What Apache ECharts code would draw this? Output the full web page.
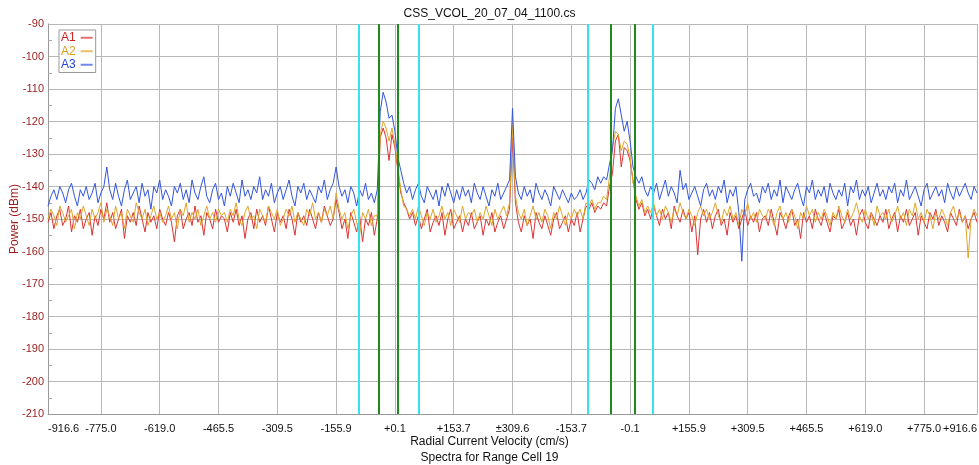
<!DOCTYPE html>
<html><head><meta charset="utf-8">
<script src="https://cdn.jsdelivr.net/npm/echarts@6/dist/echarts.min.js"></script>
<style>html,body{margin:0;padding:0;background:#fff}#c{width:979px;height:465px}</style>
</head><body><div id="c"></div>
<script>
const seriesNames = ['A1', 'A2', 'A3'];
const xStart = -7.9, xStep = 0.05;

const a1 = [
-151,-148,-153,-149,-147,-152,-150,-146,-154,-149,-151,-147,-153,-150,-148,-155,-149,-152,-147,-150,
-145,-151,-148,-153,-150,-147,-156,-149,-151,-148,-152,-146,-150,-154,-148,-151,-149,-153,-147,-150,
-152,-148,-151,-157,-149,-147,-153,-150,-148,-152,-146,-151,-149,-155,-148,-150,-153,-147,-151,-149,
-150,-154,-148,-151,-147,-152,-149,-156,-150,-148,-153,-147,-151,-149,-152,-146,-150,-154,-148,-151,
-149,-153,-147,-150,-155,-148,-151,-149,-152,-147,-150,-153,-148,-151,-146,-149,-152,-150,-144,-148,
-153,-150,-156,-148,-151,-154,-149,-157,-150,-152,-148,-155,
-150,-125,-122,-125,-132,-124,-128,-135,-142,-145,-147,-150,
-148,-152,-149,-153,-150,-147,-154,-151,-149,-152,-148,-155,-150,-147,-153,-151,-149,-154,-150,-152,
-148,-153,-151,-149,-155,-150,-152,-148,-154,-151,-149,-153,-150,-147,
-125,-145,
-151,-154,-149,-152,-150,-156,-148,-151,-153,-149,-152,-155,-150,-148,-153,-151,-149,-154,-150,-152,
-148,-154,-150,-146,-147,-145,-148,-146,
-147,-145,-146,-140,-136,-126,-124,-134,-128,-129,-132,-138,-144,-147,-145,-149,
-147,-150,-146,-149,-152,-147,-150,-148,-153,-146,-149,-151,-147,-150,-148,-154,-149,-161,-150,-147,
-151,-148,-153,-149,-147,-152,-150,-155,-148,-151,-149,-153,-150,-147,-152,-149,-151,-148,-154,-150,
-149,-152,-147,-151,-155,-148,-150,-153,-149,-147,-152,-150,-156,-148,-151,-149,-153,-147,-150,-152,
-148,-151,-154,-149,-150,-147,-153,-151,-148,-152,-150,-155,-149,-147,-151,-153,-148,-150,-152,-149,
-151,-147,-153,-150,-148,-154,-149,-151,-147,-152,-150,-148,-155,-149,-151,-153,-148,-150,-147,-152,
-149,-151,-154,-148,-150,-152,-147,-151,-149,-153,-150,-148,-151
];

const a2 = [
-150,-147,-149,-152,-146,-148,-151,-149,-147,-153,-148,-150,-146,-149,-152,-147,-150,-148,-145,-151,
-147,-149,-152,-146,-150,-148,-153,-147,-149,-151,-145,-148,-150,-147,-152,-149,-146,-150,-148,-151,
-149,-146,-150,-148,-153,-147,-149,-145,-151,-148,-150,-147,-152,-149,-146,-150,-148,-151,-147,-149,
-148,-151,-147,-149,-145,-150,-152,-148,-146,-150,-149,-153,-147,-149,-151,-146,-148,-150,-147,-152,
-150,-147,-149,-146,-151,-148,-150,-152,-147,-149,-145,-150,-148,-151,-147,-149,-146,-150,-142,-147,
-150,-148,-153,-149,-147,-151,-155,-148,-150,-147,-152,-149,
-149,-124,-120,-122,-126,-122,-127,-134,-141,-146,-147,-149,
-147,-150,-146,-149,-152,-148,-150,-147,-151,-149,-146,-150,-148,-152,-147,-149,-151,-146,-150,-148,
-149,-147,-151,-148,-150,-146,-149,-152,-147,-150,-148,-146,-149,-145,
-121,-143,
-148,-150,-147,-152,-149,-146,-150,-148,-151,-147,-149,-153,-148,-150,-146,-149,-152,-148,-150,-147,
-149,-147,-150,-145,-146,-144,-147,-145,
-145,-143,-144,-137,-128,-123,-124,-129,-126,-127,-131,-139,-143,-146,-144,-148,
-146,-148,-145,-149,-147,-150,-146,-148,-151,-147,-149,-145,-148,-150,-147,-149,-152,-148,-146,-149,
-147,-150,-148,-145,-149,-151,-147,-149,-146,-150,-148,-152,-147,-149,-145,-150,-148,-151,-147,-149,
-150,-147,-149,-152,-148,-146,-150,-148,-151,-147,-149,-153,-148,-150,-146,-149,-147,-151,-148,-150,
-147,-149,-152,-148,-150,-146,-149,-151,-147,-150,-148,-145,-149,-151,-147,-150,-148,-152,-146,-149,
-148,-150,-147,-151,-149,-146,-150,-148,-152,-147,-149,-145,-150,-148,-151,-147,-149,-153,-148,-150,
-147,-149,-152,-148,-146,-150,-148,-151,-149,-162,-150,-147,-149
];

const a3 = [
-146,-143,-141,-144,-140,-142,-145,-141,-139,-143,-146,-141,-143,-140,-144,-142,-139,-145,-142,-140,
-134,-141,-144,-139,-143,-146,-141,-138,-144,-142,-140,-145,-139,-143,-141,-147,-140,-142,-138,-144,
-141,-143,-146,-140,-142,-139,-144,-141,-145,-138,-142,-144,-140,-137,-143,-145,-141,-139,-144,-142,
-146,-140,-143,-139,-142,-145,-138,-143,-141,-144,-140,-142,-137,-144,-141,-143,-139,-145,-142,-140,
-144,-141,-138,-143,-146,-140,-142,-139,-144,-141,-143,-145,-140,-142,-138,-144,-141,-139,-134,-140,
-143,-141,-145,-140,-142,-146,-141,-143,-139,-144,-142,-145,
-141,-117,-111,-114,-119,-118,-123,-131,-135,-139,-142,-140,
-144,-141,-139,-143,-145,-140,-142,-144,-141,-146,-140,-143,-139,-142,-145,-141,-144,-140,-143,-141,
-145,-139,-142,-144,-140,-143,-146,-141,-143,-139,-144,-142,-140,-138,
-116,-137,
-142,-144,-140,-143,-141,-145,-139,-142,-144,-141,-143,-146,-140,-142,-144,-141,-143,-145,-142,-144,
-143,-141,-144,-142,-138,-139,-141,-137,
-139,-137,-138,-133,-129,-116,-113,-118,-123,-120,-126,-134,-137,-139,-137,-141,
-143,-140,-142,-139,-144,-141,-138,-143,-140,-142,-145,-135,-141,-139,-144,-142,-140,-143,-146,-141,
-139,-143,-141,-144,-140,-142,-138,-145,-141,-143,-140,-148,-163,-144,-141,-139,-143,-142,-145,-140,
-142,-139,-144,-141,-143,-138,-145,-140,-142,-144,-141,-139,-143,-146,-140,-142,-138,-144,-141,-143,
-140,-145,-139,-142,-144,-141,-143,-139,-146,-140,-142,-138,-144,-141,-143,-140,-145,-142,-139,-143,
-141,-144,-140,-142,-139,-145,-141,-143,-138,-144,-142,-140,-143,-146,-141,-139,-144,-142,-140,-143,
-141,-145,-139,-142,-144,-140,-143,-141,-139,-142,-144,-140,-142
];

const tickLabels = ['-916.6','-775.0','-619.0','-465.5','-309.5','-155.9','+0.1','+153.7','\u00b1309.6',
  '-153.7','-0.1','+155.9','+309.5','+465.5','+619.0','+775.0','+916.6'];
const tickValues = [-7.9, -7, -6, -5, -4, -3, -2, -1, 0, 1, 2, 3, 4, 5, 6, 7, 7.9];
const cyanLines = [-2.62, -1.60, 1.28, 2.38];
const greenLines = [-2.28, -1.96, 1.67, 2.08];

const colors = ['#dd3333', '#e0a52a', '#3355dd'];
const legendColors = ['#d62020', '#d9a020', '#2244dd'];
const FONT = '"Liberation Sans", Arial, Helvetica, sans-serif';
const AXRED = '#9b1c1c';
const X_MIN = -7.9, X_MAX = 7.9;

function toPairs(arr) { return arr.map((v, i) => [+(xStart + i * xStep).toFixed(3), v]); }
function labelFor(v) {
  let best = 0;
  tickValues.forEach((t, k) => { if (Math.abs(t - v) < Math.abs(tickValues[best] - v)) best = k; });
  return tickLabels[best];
}

const chart = echarts.init(document.getElementById('c'), null, { renderer: 'canvas' });
const lineSeries = [a1, a2, a3].map((arr, k) => ({
  name: seriesNames[k], type: 'line', data: toPairs(arr), showSymbol: false, symbol: 'none',
  xAxisIndex: 0,
  lineStyle: { width: 1, color: colors[k] }, itemStyle: { color: colors[k] },
  animation: false, silent: true, z: 2 + k
}));
lineSeries.push({
  type: 'line', data: [], silent: true, z: 10, xAxisIndex: 0,
  markLine: {
    silent: true, symbol: ['none', 'none'], animation: false, label: { show: false },
    data: cyanLines.map(v => ({ xAxis: v, lineStyle: { color: '#36e2f2', width: 2, type: 'solid' } }))
      .concat(greenLines.map(v => ({ xAxis: v, lineStyle: { color: '#1f8a1f', width: 2, type: 'solid' } })))
  }
});

chart.setOption({
  backgroundColor: '#fff',
  animation: false,
  textStyle: { fontFamily: FONT },
  title: [
    { text: 'CSS_VCOL_20_07_04_1100.cs', left: 'center', top: 6, padding: 0,
      textStyle: { fontSize: 12, fontWeight: 'normal', color: '#111', fontFamily: FONT, lineHeight: 16 } },
    { text: 'Radial Current Velocity (cm/s)', left: 'center', top: 434, padding: 0,
      textStyle: { fontSize: 12, fontWeight: 'normal', color: '#111', fontFamily: FONT, lineHeight: 16 } },
    { text: 'Spectra for Range Cell 19', left: 'center', top: 450, padding: 0,
      textStyle: { fontSize: 12, fontWeight: 'normal', color: '#111', fontFamily: FONT, lineHeight: 16 } }
  ],
  legend: {
    orient: 'vertical', left: 59, top: 30, align: 'right',
    padding: [1, 3, 1, 2], itemGap: 0, itemWidth: 12, itemHeight: 2, icon: 'rect',
    borderColor: '#999', borderWidth: 1, backgroundColor: '#fff',
    selectedMode: false,
    data: seriesNames.map((n, k) => ({ name: n, textStyle: { color: legendColors[k] }, itemStyle: { color: colors[k], opacity: 0.7 } })),
    textStyle: { fontSize: 12, fontFamily: FONT, lineHeight: 13.5 }
  },
  grid: { left: 48, right: 2, top: 24, bottom: 51, containLabel: false, outerBoundsMode: 'none' },
  xAxis: [{
    type: 'value', min: X_MIN, max: X_MAX,
    axisLine: { show: true, onZero: false, lineStyle: { color: '#999' } },
    axisTick: { show: false, customValues: tickValues },
    splitLine: { show: true, lineStyle: { color: '#b8b8b8', width: 1 } },
    axisLabel: {
      show: true, customValues: tickValues.slice(0, tickValues.length - 1),
      showMinLabel: true, showMaxLabel: true, color: '#111', fontSize: 11, margin: 9,
      alignMinLabel: 'left',
      fontFamily: FONT,
      formatter: v => labelFor(v)
    }
  }, {
    type: 'value', min: X_MIN, max: X_MAX, position: 'bottom',
    axisLine: { show: false, onZero: false },
    axisTick: { show: false, customValues: [X_MAX] },
    splitLine: { show: false },
    axisLabel: {
      show: true, customValues: [X_MAX], showMinLabel: false, showMaxLabel: true,
      color: '#111', fontSize: 11, margin: 9,
      align: 'right', alignMaxLabel: 'right',
      fontFamily: FONT,
      formatter: v => labelFor(v)
    }
  }],
  yAxis: {
    type: 'value', min: -210, max: -90, interval: 10,
    name: 'Power (dBm)', nameLocation: 'middle', nameGap: 27, nameMoveOverlap: false,
    nameTextStyle: { color: AXRED, fontSize: 12, fontFamily: FONT },
    axisLine: { show: true, onZero: false, lineStyle: { color: '#999' } },
    axisTick: { show: false, inside: true },
    minorTick: { show: true, splitNumber: 2, length: 4, lineStyle: { color: '#aaa' } },
    splitLine: { show: true, lineStyle: { color: '#b8b8b8', width: 1 } },
    axisLabel: { color: AXRED, fontSize: 11, margin: 4, fontFamily: FONT }
  },
  series: lineSeries
});
</script>
</body></html>
